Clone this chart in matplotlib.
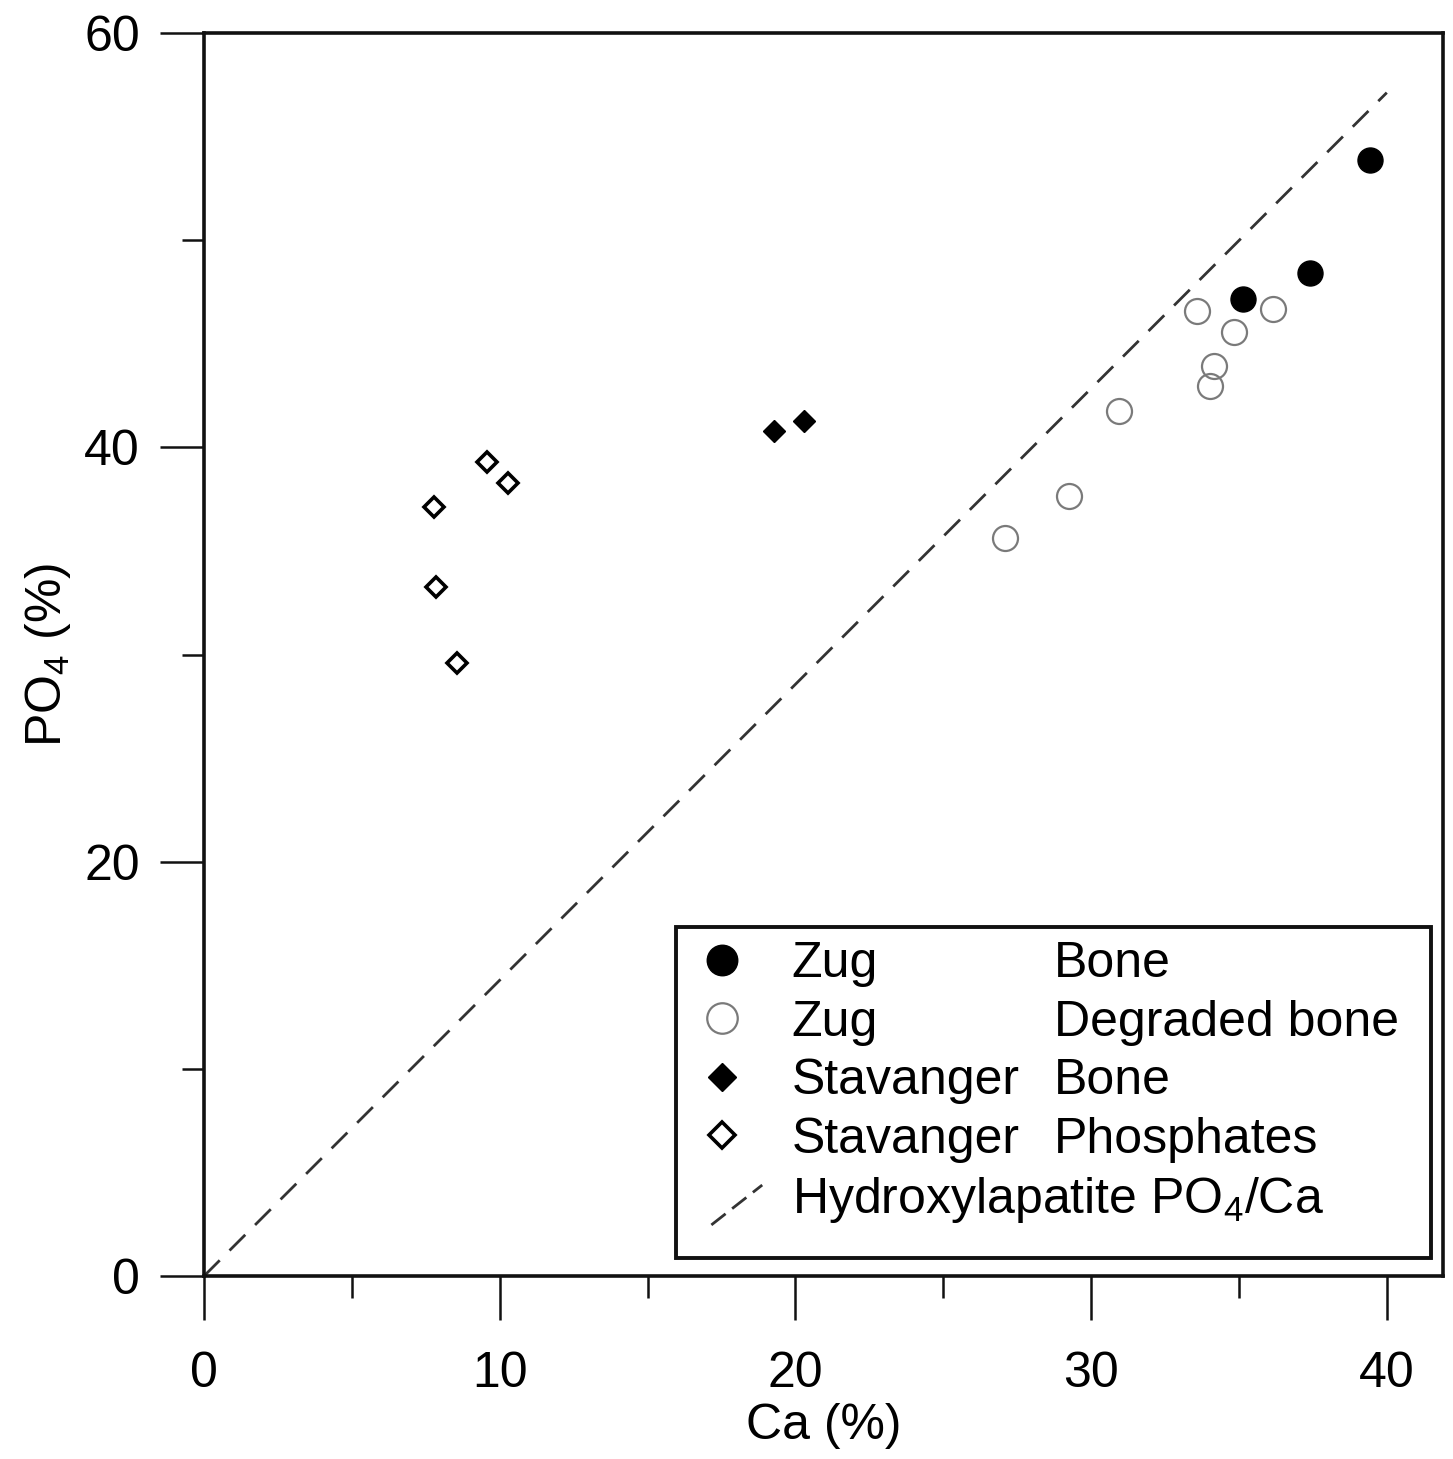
import matplotlib
matplotlib.use("Agg")
import matplotlib.pyplot as plt
from matplotlib.lines import Line2D
from matplotlib.patches import Rectangle
from matplotlib.legend_handler import HandlerBase
from matplotlib.ticker import MultipleLocator

plt.rcParams['font.family'] = ['Liberation Sans', 'DejaVu Sans']
plt.rcParams['mathtext.default'] = 'regular'
plt.rcParams['lines.scale_dashes'] = False

# Data
zug_bone_ca = [39.43, 37.40, 35.14]
zug_bone_po4 = [53.86, 48.41, 47.15]
zug_deg_ca = [27.08, 29.24, 30.93, 33.59, 36.16, 34.84, 34.17, 34.03]
zug_deg_po4 = [35.62, 37.64, 41.75, 46.57, 46.67, 45.56, 43.92, 42.95]
stav_bone_ca = [19.29, 20.30]
stav_bone_po4 = [40.78, 41.26]
stav_phos_ca = [9.58, 10.29, 7.79, 7.86, 8.57]
stav_phos_po4 = [39.29, 38.27, 37.11, 33.25, 29.58]
hap_ca = [0, 40]
hap_ratio = 1.428
hap_po4 = [c * hap_ratio for c in hap_ca]

labels_left = ["Zug", "Zug", "Stavanger", "Stavanger", "Hydroxylapatite PO$_4$/Ca"]
labels_right = ["Bone", "Degraded bone", "Bone", "Phosphates"]

LINE_COL = '#333333'
DASH = (16, 10)

fig = plt.figure(figsize=(14.53, 14.59), dpi=100)
ax = fig.add_axes([0.1404, 0.1254, 0.8527, 0.8520])

ln_hap, = ax.plot(hap_ca, hap_po4, color=LINE_COL, lw=2.0, dashes=DASH, zorder=1)
h1, = ax.plot(zug_bone_ca, zug_bone_po4, 'o', ms=18, mfc='black', mec='black', mew=1, ls='none', zorder=3)
h2, = ax.plot(zug_deg_ca, zug_deg_po4, 'o', ms=18, mfc='none', mec='#7a7a7a', mew=1.6, ls='none', zorder=3)
h3, = ax.plot(stav_bone_ca, stav_bone_po4, 'D', ms=11.5, mfc='black', mec='black', mew=1, ls='none', zorder=3)
h4, = ax.plot(stav_phos_ca, stav_phos_po4, 'D', ms=10.5, mfc='white', mec='black', mew=2.6, ls='none', zorder=3)

ax.set_xlim(0, 41.9)
ax.set_ylim(0, 60)
ax.xaxis.set_major_locator(MultipleLocator(10))
ax.xaxis.set_minor_locator(MultipleLocator(5))
ax.yaxis.set_major_locator(MultipleLocator(20))
ax.yaxis.set_minor_locator(MultipleLocator(10))
ax.tick_params(axis='both', which='major', direction='out', length=32, width=1.8, labelsize=36, color='#111111')
ax.tick_params(axis='both', which='minor', direction='out', length=16, width=1.8, color='#111111')
ax.tick_params(axis='x', which='major', pad=22)
ax.tick_params(axis='y', which='major', pad=14)
for s in ax.spines.values():
    s.set_linewidth(2.6)
    s.set_color('#111111')

ax.set_xlabel("Ca (%)", fontsize=36, labelpad=4)
ax.set_ylabel("PO$_4$ (%)", fontsize=36, labelpad=8)


class DiagHandler(HandlerBase):
    def create_artists(self, legend, orig_handle, xdescent, ydescent, width, height, fontsize, trans):
        x0 = -xdescent
        y0 = -ydescent
        line = Line2D([x0 + 0.27 * width, x0 + 1.4 * width],
                      [y0 - 0.34 * height, y0 + 0.8 * height],
                      color=LINE_COL, lw=2.0, dashes=(13, 6), transform=trans)
        return [line]


# legend frame
ax.add_patch(Rectangle((0.381, 0.0145), 0.609, 0.266, transform=ax.transAxes,
                       fill=True, facecolor='white', edgecolor='#111111', lw=2.8, zorder=4))

leg = ax.legend([h1, h2, h3, h4, ln_hap], labels_left,
                loc='upper left', bbox_to_anchor=(0.3997, 0.2695), bbox_transform=ax.transAxes,
                frameon=False, fontsize=36, handlelength=0.9, handletextpad=0.95,
                borderpad=0, borderaxespad=0, labelspacing=0.25, numpoints=1,
                markerscale=1.22, handler_map={ln_hap: DiagHandler()})
leg.set_zorder(5)

texts = leg.get_texts()
for t, lab in zip(texts[:4], labels_right):
    ax.annotate(lab, xy=(0, 0), xycoords=t, xytext=(188.6, 0), textcoords='offset points',
                fontsize=36, ha='left', va='bottom', zorder=6)

fig.savefig("out.png", dpi=100)
